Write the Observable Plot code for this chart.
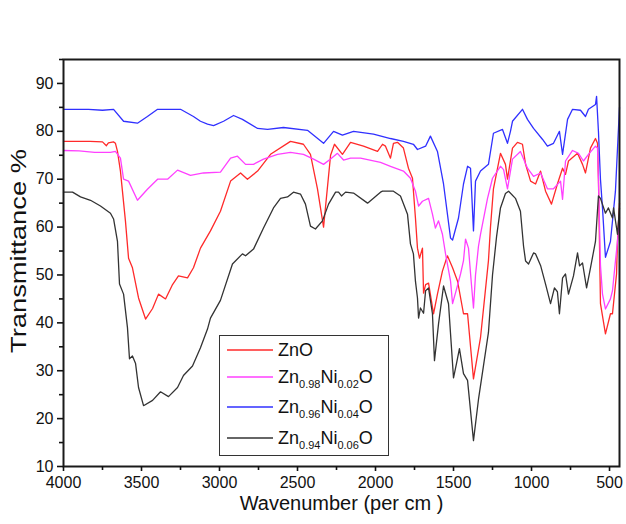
<!DOCTYPE html>
<html><head><meta charset="utf-8">
<script src="https://cdn.jsdelivr.net/npm/d3@7"></script>
<script src="https://cdn.jsdelivr.net/npm/@observablehq/plot@0.6"></script>
<style>
body{margin:0;background:#fff;font-family:"Liberation Sans",Arial,sans-serif;}
#wrap{position:relative;width:626px;height:524px;}
#legend{position:absolute;left:219px;top:335px;width:170px;height:121px;border:1.5px solid #333;background:#fff;box-sizing:border-box;z-index:5;}
.row{position:absolute;left:0;width:168px;height:20px;}
.sw{position:absolute;left:7px;top:0;width:46px;height:20px;}
.lab{position:absolute;left:58px;top:0;line-height:20px;font-size:18px;color:#111;white-space:nowrap;}
.lab sub{font-size:11px;vertical-align:-5px;line-height:0;}
</style></head>
<body><div id="wrap"></div>
<script>
// ---- data (wavenumber cm^-1, transmittance %) ----
const seriesNames = ["ZnO", "Zn0.98Ni0.02O", "Zn0.96Ni0.04O", "Zn0.94Ni0.06O"];
const seriesColors = ["#ff2a2a", "#ff40ff", "#3030ff", "#333333"];
const xTicks = [4000, 3500, 3000, 2500, 2000, 1500, 1000, 500];
const xMinor = [3750, 3250, 2750, 2250, 1750, 1250, 750];
const yTicks = [10, 20, 30, 40, 50, 60, 70, 80, 90];
const yMinor = [15, 25, 35, 45, 55, 65, 75, 85, 95];

const zno = [[4000,77.9],[3830,77.9],[3750,77.8],[3725,77.0],[3712,77.6],[3680,77.8],[3667,77.5],[3654,75.8],[3635,71.7],[3603,61.3],[3583,53.5],[3558,51.5],[3519,45.2],[3474,40.8],[3429,43],[3391,46],[3346,45],[3301,48],[3263,49.8],[3205,49.4],[3167,51.5],[3122,55.6],[3058,59.2],[2994,63.3],[2929,69.6],[2865,71.3],[2821,70],[2756,71.7],[2673,75.2],[2545,77.9],[2462,77.3],[2417,75.2],[2372,68],[2333,60],[2288,75],[2263,77.3],[2212,75.2],[2160,77.7],[2077,76.9],[1987,75.8],[1955,77.3],[1936,76.9],[1904,74.4],[1885,77.5],[1859,77.7],[1821,76.5],[1789,72.3],[1763,70.2],[1744,61.9],[1731,55.6],[1718,53.5],[1699,55.6],[1692,46.2],[1679,48],[1660,48.3],[1628,41.9],[1603,46],[1571,50.8],[1539,54],[1506,51.5],[1474,48.7],[1436,41.9],[1410,41.9],[1372,28.3],[1327,36.9],[1295,47],[1276,53],[1263,60],[1244,68],[1199,75.4],[1167,73.1],[1154,70],[1122,76.5],[1090,77.7],[1058,77.3],[1038,73.1],[1006,69.6],[974,69],[942,71.7],[910,67.5],[872,64.8],[834,69],[801,72.3],[782,71],[763,73.8],[705,75.4],[673,73.1],[654,71.3],[622,76.5],[590,78.5],[577,77.5],[571,70],[558,44],[526,37.7],[494,41.9],[481,41.9],[455,50.2],[449,57],[436,65]];

const ni02 = [[4000,76],[3900,75.9],[3800,75.6],[3699,75.6],[3667,75.8],[3635,74.4],[3615,70],[3583,69.6],[3526,65.6],[3462,67.9],[3397,70],[3333,70],[3269,71.9],[3186,70.8],[3103,71.3],[2994,71.5],[2929,74.4],[2885,74.8],[2833,73.1],[2782,73.1],[2718,74.2],[2628,75.2],[2545,75.6],[2462,75.2],[2397,74.2],[2333,73.1],[2288,74.2],[2244,75.4],[2205,74],[2160,74.4],[2096,74.4],[1968,73.5],[1904,72.7],[1821,71.7],[1776,70.2],[1744,67.5],[1724,64.4],[1699,65.4],[1660,66],[1635,62.7],[1616,59.8],[1596,61.3],[1571,58.5],[1551,54.4],[1519,48.7],[1506,44],[1481,47],[1455,50.2],[1436,53],[1423,57.5],[1404,55.6],[1385,48],[1372,43.1],[1359,50],[1340,56],[1327,58.5],[1282,66],[1250,70.2],[1199,72.7],[1179,72],[1154,68],[1122,74.2],[1071,75.8],[1026,72.3],[987,70.6],[942,71.3],[898,68],[859,68],[814,69.6],[801,65.8],[782,73.8],[737,76],[699,75.4],[667,73.8],[635,75.2],[590,76.9],[577,76.5],[571,70],[558,52],[545,46],[526,42.9],[494,45],[481,46.7],[462,52.9],[449,57],[436,62]];

const ni04 = [[4000,84.6],[3840,84.6],[3750,84.4],[3679,84.6],[3615,82.1],[3526,81.7],[3462,83.1],[3397,84.6],[3250,84.6],[3167,83.1],[3122,82.1],[3077,81.5],[3038,81.2],[2974,82.1],[2910,83.3],[2853,82.5],[2756,80.6],[2692,80.4],[2590,80.8],[2436,80.2],[2333,77.5],[2269,80],[2212,79.2],[2141,80],[2013,79.4],[1904,78.5],[1821,77.9],[1757,77.3],[1731,76.2],[1679,76.9],[1648,79],[1603,75.8],[1564,69],[1519,57.7],[1506,57.3],[1468,61.9],[1436,69],[1410,72.7],[1391,72.3],[1372,59.2],[1359,69.6],[1327,71.7],[1276,73.1],[1244,79.6],[1186,80.4],[1154,77.5],[1135,80],[1122,82.1],[1058,84.6],[1026,82.5],[987,80.6],[929,78.3],[898,76.9],[859,77.5],[821,80],[801,75.2],[769,82.5],[737,84.6],[686,84.4],[654,83.1],[635,84.6],[590,85.6],[583,87.3],[571,80],[558,70],[545,64],[526,53.7],[494,57],[462,67.5],[436,85]];

const ni06 = [[4000,67.3],[3942,67.3],[3891,66.3],[3827,65.6],[3763,64.4],[3699,62.9],[3679,61.7],[3654,57],[3641,48.1],[3615,46],[3590,39],[3577,32.5],[3558,33.1],[3538,31.5],[3519,26.5],[3487,22.7],[3429,23.8],[3378,25.6],[3327,24.6],[3269,26.5],[3231,29],[3173,31],[3122,34.8],[3077,38.7],[3058,41],[2994,44.7],[2917,52.3],[2853,54.4],[2833,54],[2782,55.4],[2718,59.8],[2654,64],[2609,66],[2564,66.3],[2526,67.3],[2481,66.9],[2449,64.8],[2417,60.2],[2385,59.6],[2340,61.3],[2301,64.8],[2256,67.3],[2237,67.3],[2218,66.5],[2192,67.3],[2141,67.1],[2051,65],[1968,67.3],[1955,67.5],[1885,67.5],[1840,66.5],[1795,62.7],[1776,56.5],[1757,54.4],[1744,48.7],[1731,45.2],[1724,41],[1712,43.1],[1692,42],[1679,46.7],[1660,47.3],[1635,41.9],[1622,32.1],[1596,39.8],[1564,47.7],[1532,44],[1500,28.5],[1481,31.5],[1462,34.6],[1436,29.4],[1410,28],[1372,15.4],[1340,24],[1308,31],[1276,38],[1250,50],[1224,58],[1199,64],[1167,67],[1147,67.5],[1103,66],[1071,63.3],[1051,56],[1038,52.9],[1019,52.3],[987,54.6],[974,54.4],[942,52],[910,48.1],[878,44],[853,47.3],[834,46.5],[821,41.9],[801,49.4],[782,50.2],[763,46],[731,49.8],[705,54.6],[692,51.9],[673,52.5],[647,47.3],[622,51.5],[590,57],[571,66.5],[558,66],[526,62.9],[507,64],[481,61.9],[474,64],[449,58.5],[436,64]];

const allSeries = [zno, ni02, ni04, ni06];
const rows = allSeries.flatMap((s, i) => s.map(([wn, t]) => ({wn, t, series: seriesNames[i]})));

const font = "'Liberation Sans', Arial, sans-serif";
const chart = Plot.plot({
  width: 626, height: 524,
  marginLeft: 63, marginRight: 7, marginTop: 59, marginBottom: 58,
  style: {fontFamily: font, fontSize: "16px", color: "#111", background: "#fff", overflow: "visible"},
  x: {domain: [4000, 436]},
  y: {domain: [10, 95]},
  marks: [
    ...seriesNames.map((name, i) => Plot.line(rows.filter(d => d.series === name), {x: "wn", y: "t", stroke: seriesColors[i], strokeWidth: 1.3})),
    Plot.frame({stroke: "#1a1a1a", strokeWidth: 2}),
    Plot.axisX({ticks: xTicks, tickSize: 5, tickPadding: 5, tickFormat: d => String(d), label: null, fontSize: 16, strokeWidth: 1.6}),
    Plot.axisX({ticks: xMinor, tickSize: 4, tickFormat: () => "", label: null, strokeWidth: 1.6}),
    Plot.axisY({ticks: yTicks, tickSize: 6, tickPadding: 4, label: null, fontSize: 16, strokeWidth: 1.6}),
    Plot.axisY({ticks: yMinor, tickSize: 4, tickFormat: () => "", label: null, strokeWidth: 1.6}),
    Plot.text(["Transmittance %"], {frameAnchor: "left", rotate: -90, dx: -45, dy: 90, textAnchor: "start", fontSize: 22, fill: "#111", className: "ylab"}),
    Plot.text(["Wavenumber (per cm )"], {frameAnchor: "bottom", dy: 43, fontSize: 20, fill: "#111"})
  ]
});
const wrap = document.getElementById("wrap");
wrap.appendChild(chart);
// stretch y label along its reading direction as in the reference
d3.select(chart).selectAll("g.ylab text").attr("textLength", 204).attr("lengthAdjust", "spacingAndGlyphs");

// legend
const legend = document.createElement("div");
legend.id = "legend";
const rowCenters = [14, 41, 71, 102];
const labelsHTML = ["ZnO", "Zn<sub>0.98</sub>Ni<sub>0.02</sub>O", "Zn<sub>0.96</sub>Ni<sub>0.04</sub>O", "Zn<sub>0.94</sub>Ni<sub>0.06</sub>O"];
seriesNames.forEach((n, i) => {
  const r = document.createElement("div");
  r.className = "row";
  r.style.top = (rowCenters[i] - 10) + "px";
  r.innerHTML = `<svg class="sw" width="46" height="20"><line x1="0" x2="46" y1="10" y2="10" stroke="${seriesColors[i]}" stroke-width="1.4"/></svg><div class="lab">${labelsHTML[i]}</div>`;
  legend.appendChild(r);
});
wrap.appendChild(legend);
</script>
</body></html>
